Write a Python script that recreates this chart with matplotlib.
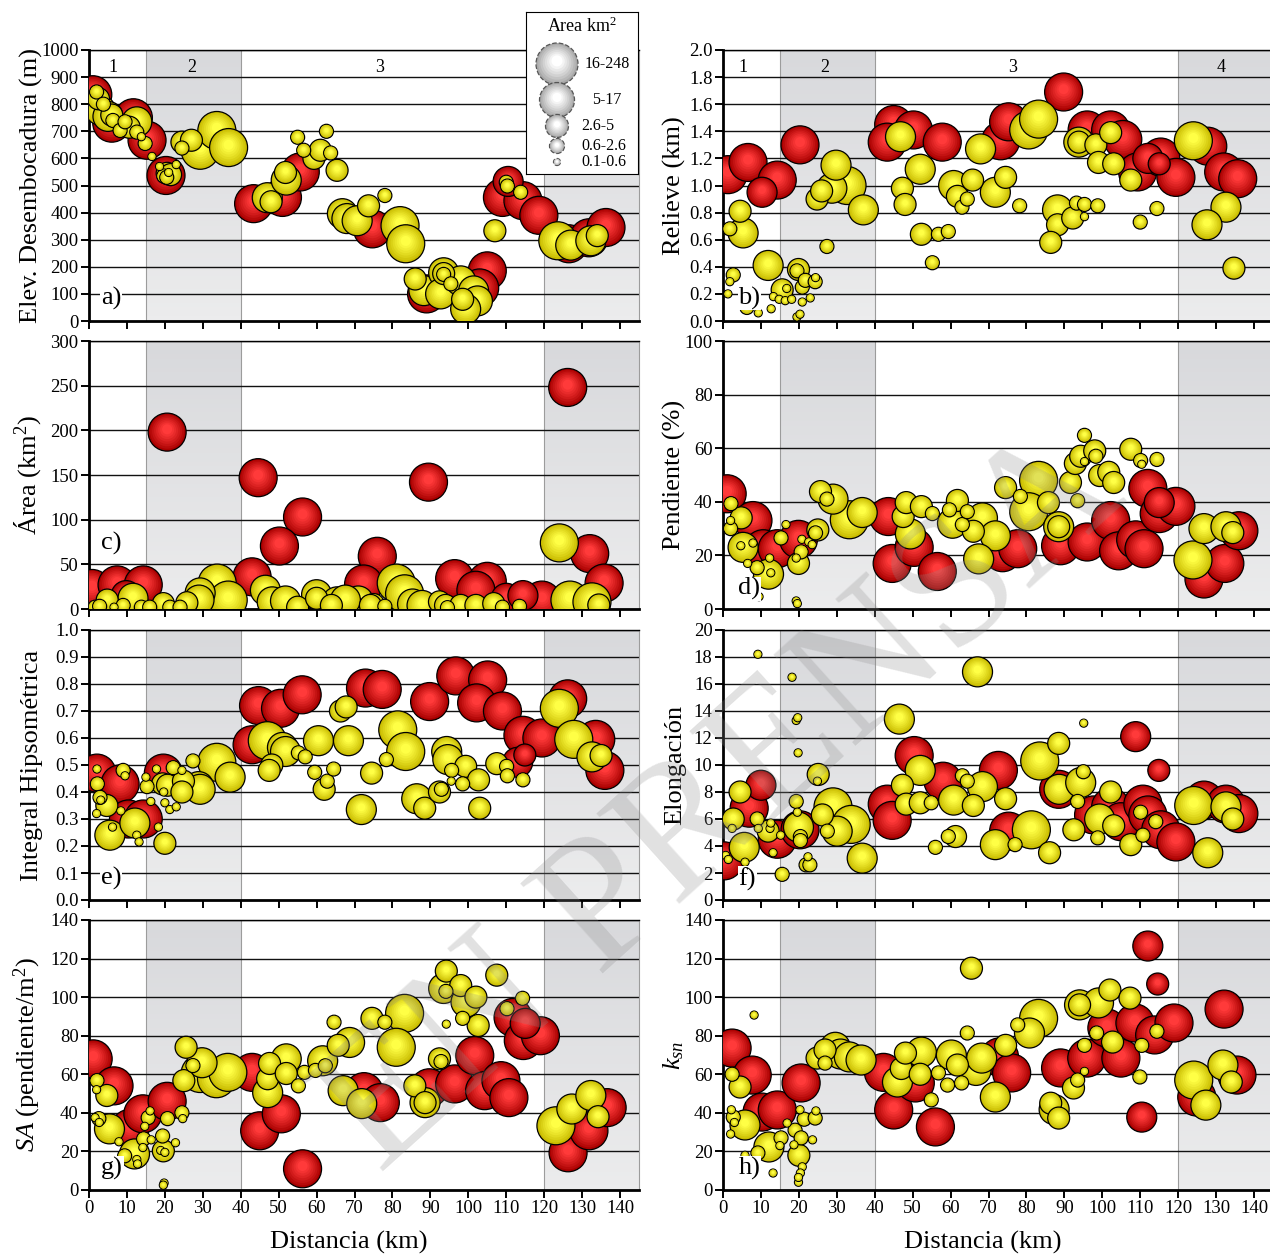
import numpy as np
import matplotlib
matplotlib.use("Agg")
import matplotlib.pyplot as plt
from matplotlib.colors import to_rgb

plt.rcParams['font.family'] = ['Liberation Serif', 'DejaVu Serif']
plt.rcParams['mathtext.fontset'] = 'custom'
plt.rcParams['mathtext.rm'] = 'Liberation Serif'
plt.rcParams['mathtext.it'] = 'Liberation Serif:italic'

# (distancia km, valor, clase de area 1..5)
elev_red = [(1, 835, 5), (6, 730, 5), (11.7, 750, 5), (15.3, 667, 5), (20.3, 537, 5), (43.4, 433, 5),
            (51, 456, 5), (55.7, 550, 5), (74.7, 340, 5), (89, 100, 5), (105, 185, 5), (103, 122, 5),
            (109, 456, 5), (110.5, 515, 4), (114.4, 444, 5), (118.6, 390, 5), (126.5, 285, 5),
            (131.8, 307, 5), (136.3, 345, 5)]
elev_yel = [(2, 845, 2), (2.5, 820, 3), (3.8, 800, 2), (3, 778, 4), (5, 755, 4), (6, 760, 3), (6.3, 740, 2),
            (8.2, 703, 2), (9.5, 735, 2), (10.6, 715, 3), (12.6, 735, 4), (12.6, 697, 2), (13.8, 680, 1),
            (14.8, 655, 2), (16.6, 607, 1), (18.6, 570, 1), (20.6, 545, 3), (21.5, 540, 3), (19.7, 535, 2),
            (20.5, 530, 2), (21, 548, 1), (23, 577, 1), (24.5, 660, 3), (24.5, 638, 2), (27, 667, 3),
            (29.3, 630, 5), (33.7, 703, 5), (36.8, 640, 5), (47, 455, 4), (48, 440, 3), (52, 520, 4),
            (51.8, 548, 3), (55, 678, 2), (56.6, 630, 2), (59.3, 600, 3), (62.6, 700, 2), (63.7, 620, 2),
            (65.4, 556, 3), (61, 630, 3), (66.8, 396, 4), (68, 378, 4), (70.7, 370, 4), (73.7, 425, 3),
            (78, 463, 2), (82, 352, 5), (83.5, 285, 5), (86, 155, 3), (88.3, 112, 4), (93.5, 178, 4),
            (93.5, 175, 3), (93.5, 172, 2), (92.7, 100, 4), (95.4, 137, 2), (98, 148, 4), (101.4, 111, 4),
            (102.4, 74, 4), (98.5, 80, 3), (99.3, 44, 4), (107, 333, 3), (110, 512, 2), (110.3, 498, 2),
            (113.8, 475, 2), (123.6, 296, 5), (127, 280, 4), (132.3, 296, 4), (134, 315, 3)]

rel_red = [(1.3, 1.08, 5), (6.6, 1.17, 5), (14.3, 1.04, 5), (10.3, 0.95, 4), (20.3, 1.30, 5), (45, 1.45, 5),
           (43.3, 1.32, 5), (50.2, 1.41, 5), (57.8, 1.32, 5), (73.2, 1.33, 5), (75.3, 1.47, 5), (89.8, 1.69, 5),
           (96, 1.41, 5), (102.2, 1.41, 5), (105.4, 1.34, 5), (109.3, 1.10, 5), (112, 1.2, 4), (115.4, 1.21, 5),
           (115, 1.16, 3), (119.4, 1.06, 5), (127.8, 1.29, 5), (132, 1.10, 5), (135.7, 1.05, 5)]
rel_yel = [(4.5, 0.81, 3), (1.8, 0.68, 2), (5.3, 0.65, 4), (11.9, 0.41, 4), (2.7, 0.34, 2), (1.8, 0.29, 1),
           (1.3, 0.2, 1), (6.3, 0.1, 2), (9.3, 0.06, 1), (12.7, 0.09, 1), (15.6, 0.23, 3), (13.3, 0.18, 1),
           (14.8, 0.16, 1), (16.8, 0.24, 1), (16.4, 0.15, 1), (18.1, 0.16, 1), (19.9, 0.38, 3), (19.5, 0.37, 2),
           (20.9, 0.25, 2), (21.7, 0.3, 2), (20.9, 0.14, 1), (19.5, 0.03, 1), (20.3, 0.05, 1), (23, 0.17, 1),
           (24.3, 0.29, 2), (24.4, 0.32, 1), (27.4, 0.55, 2), (24.8, 0.9, 3), (26, 0.96, 3), (28.7, 0.98, 4),
           (29.8, 1.15, 4), (32.7, 1.0, 5), (37, 0.82, 4), (46.8, 1.36, 4), (52, 1.12, 4), (47.3, 0.98, 3),
           (48, 0.86, 3), (52.3, 0.64, 3), (56.8, 0.64, 2), (59.4, 0.66, 2), (55.2, 0.43, 2), (60.8, 1.0, 4),
           (61.8, 0.92, 3), (63, 0.84, 2), (64.4, 0.9, 2), (65.8, 1.04, 3), (71.8, 0.95, 4), (74.5, 1.06, 3),
           (78.2, 0.85, 2), (67.9, 1.27, 4), (80.6, 1.41, 5), (83.2, 1.49, 5), (88.2, 0.82, 4), (88.2, 0.71, 3),
           (86.4, 0.58, 3), (92.2, 0.76, 3), (93.2, 0.87, 2), (95.3, 0.86, 2), (95.3, 0.77, 1), (98.8, 0.85, 2),
           (93.8, 1.32, 4), (93.8, 1.32, 3), (98.3, 1.3, 3), (102.2, 1.39, 3), (99, 1.17, 3), (103, 1.16, 3),
           (107.5, 1.04, 3), (110, 0.73, 2), (114.4, 0.83, 2), (124, 1.33, 5), (132.6, 0.84, 4),
           (127.6, 0.71, 4), (134.7, 0.39, 3)]

area_red = [(20.6, 198, 5), (44.6, 147, 5), (56.3, 103, 5), (50.2, 70.5, 5), (76, 59, 5), (72.4, 28, 5),
            (43, 36, 5), (0.8, 23, 5), (7.4, 27, 5), (14.3, 27, 5), (9.8, 15, 4), (89.5, 142, 5), (96.4, 34, 5),
            (105, 31, 5), (102, 21, 5), (110, 12, 4), (114.4, 15, 4), (119.4, 10, 5), (126.2, 248, 5),
            (132, 62, 5), (135.8, 29, 5)]
area_yel = [(33.8, 29, 5), (36.7, 10, 5), (29.3, 18, 4), (29, 10, 4), (11.6, 12, 4), (4.8, 10, 3), (1.6, 2, 2),
            (2.8, 3, 2), (6.6, 2, 1), (9, 4, 2), (13.8, 2, 2), (16, 2, 2), (19.6, 6, 3), (21.3, 2, 2), (24, 2, 2),
            (25.8, 7, 3), (46.5, 21, 4), (48.3, 8, 4), (51.8, 9, 4), (55, 2, 3), (60, 16, 4), (65.4, 8, 4),
            (71, 9, 4), (75, 5, 3), (81, 29, 5), (83.2, 17, 5), (60, 12, 3), (63.9, 4, 3), (67.6, 10, 4),
            (74.2, 4, 3), (78, 3, 2), (85.3, 5.6, 4), (87.8, 4, 4), (92.4, 8, 3), (94, 4, 3), (94.5, 1.5, 2),
            (98, 4, 3), (102, 4, 3), (106.7, 6, 3), (109, 2, 2), (113.5, 3, 2), (124, 74, 5), (126.8, 10, 5),
            (132.6, 8, 5), (134.4, 4.5, 3)]

pend_red = [(1.1, 43, 5), (7.9, 33, 5), (10.6, 22.5, 5), (14.3, 22.5, 5), (19.9, 26, 5), (43.6, 34.5, 5),
            (44.6, 17, 5), (50.4, 23, 5), (56.5, 14, 5), (73.7, 21, 5), (77.7, 22.5, 5), (89, 23.6, 5),
            (96, 25, 5), (102.2, 33, 5), (104.3, 21.7, 5), (108.8, 25.8, 5), (111, 22.5, 5), (112, 45, 5),
            (115, 35.6, 5), (115, 39.7, 4), (119.4, 38.3, 5), (126.8, 11.2, 5), (132.3, 17, 5), (136, 29.2, 5)]
pend_yel = [(2.1, 39.3, 2), (2, 33, 1), (2, 30, 2), (4.8, 34, 3), (5.3, 23, 4), (4.7, 23.6, 1), (7.9, 24.6, 1),
            (9, 15.4, 2), (12, 13, 4), (12.6, 13.5, 1), (12.3, 19, 1), (6.5, 17, 1), (9.5, 4.6, 1),
            (15.3, 26.5, 2), (16.6, 31.5, 1), (19.9, 17, 3), (19.3, 19, 1), (20.6, 21.3, 2), (20.8, 26, 1),
            (19.3, 3, 1), (19.6, 2, 1), (22.6, 25, 1), (23.5, 24, 1), (24.4, 28.4, 2), (25, 29.5, 3),
            (25.7, 43.8, 3), (27.4, 41, 2), (29, 41, 4), (33.3, 33.3, 5), (36.7, 36, 4), (49.4, 28, 4),
            (47.5, 34.5, 3), (48.3, 39.7, 3), (52.3, 38.2, 3), (55.2, 35.6, 2), (59.7, 37, 2), (61.8, 40.5, 3),
            (60.5, 32, 4), (63.1, 31.5, 2), (64.4, 36.3, 2), (66, 29, 3), (68.4, 34, 4), (71.8, 27.3, 4),
            (67.4, 18.7, 4), (74.5, 45.3, 3), (78.4, 42, 2), (83.2, 48, 5), (80.6, 36.3, 5), (85.8, 39.7, 3),
            (88.5, 30.7, 4), (88.5, 30.7, 3), (93.5, 40.4, 2), (91.6, 47.2, 3), (92.9, 54.3, 3), (94.3, 57, 3),
            (95.3, 64.8, 2), (95.3, 55, 1), (98, 59, 3), (98.3, 57, 2), (99.3, 49.8, 3), (101.7, 51, 3),
            (103, 47.2, 3), (107.5, 59.6, 3), (110.1, 55.4, 2), (110.4, 54, 1), (114.4, 55.8, 2),
            (123.9, 18.3, 5), (126.8, 30, 4), (132.6, 30.7, 4), (134.4, 28.5, 3)]

hip_red = [(2.1, 0.47, 5), (8.2, 0.43, 5), (10.4, 0.30, 5), (14.3, 0.30, 5), (19.6, 0.47, 5), (43, 0.575, 5),
           (44.7, 0.72, 5), (50.5, 0.71, 5), (56.2, 0.76, 5), (72.9, 0.785, 5), (77.3, 0.78, 5), (89.8, 0.735, 5),
           (96.7, 0.83, 5), (105.1, 0.815, 5), (102.2, 0.73, 5), (109, 0.70, 5), (114.9, 0.537, 3),
           (113, 0.51, 4), (114.4, 0.61, 5), (119.4, 0.60, 5), (126.2, 0.745, 5), (133.6, 0.595, 5),
           (136, 0.48, 5)]
hip_yel = [(2.1, 0.485, 1), (2.2, 0.43, 2), (2.9, 0.38, 2), (3.1, 0.37, 1), (4.7, 0.35, 3), (2, 0.32, 1),
           (5.5, 0.24, 4), (6.2, 0.27, 1), (9, 0.48, 2), (9.5, 0.46, 1), (8.4, 0.33, 1), (12.1, 0.285, 4),
           (12.6, 0.24, 1), (13.2, 0.215, 1), (15, 0.455, 1), (15.3, 0.42, 2), (16.3, 0.365, 1), (18.3, 0.27, 1),
           (17.8, 0.485, 1), (20, 0.21, 3), (19.4, 0.43, 3), (20.7, 0.425, 3), (19.7, 0.40, 1), (22.2, 0.49, 2),
           (20, 0.36, 1), (21.3, 0.335, 1), (23, 0.345, 1), (24.5, 0.48, 1), (24.9, 0.44, 3), (24.5, 0.40, 3),
           (27.4, 0.515, 2), (28.9, 0.42, 4), (29.3, 0.41, 4), (33.7, 0.51, 5), (37.2, 0.455, 4), (47, 0.59, 5),
           (48.2, 0.50, 3), (47.5, 0.48, 3), (51, 0.565, 4), (51.8, 0.55, 4), (55.2, 0.545, 2), (57, 0.53, 2),
           (60.5, 0.59, 4), (59.5, 0.473, 2), (62, 0.41, 3), (62.8, 0.44, 2), (64.5, 0.485, 2), (66.3, 0.70, 3),
           (67.8, 0.715, 3), (68.4, 0.59, 4), (71.8, 0.335, 4), (74.5, 0.47, 3), (78.4, 0.52, 2),
           (81.4, 0.63, 5), (83.5, 0.55, 5), (94.3, 0.55, 4), (94.6, 0.52, 4), (95.6, 0.48, 2), (99.3, 0.495, 3),
           (98.5, 0.43, 2), (102.7, 0.445, 3), (103, 0.34, 3), (86.4, 0.375, 4), (88.5, 0.34, 3),
           (92.4, 0.40, 3), (92.9, 0.41, 2), (95.5, 0.44, 1), (107.5, 0.505, 3), (110.1, 0.495, 2),
           (110.3, 0.46, 2), (114.4, 0.445, 2), (124, 0.71, 5), (127.8, 0.595, 5), (132.6, 0.53, 4),
           (135, 0.535, 3)]

elon_red = [(10, 8.5, 4), (6.9, 6.8, 5), (0.3, 2.9, 5), (14.3, 4.5, 5), (20.3, 5.2, 5), (43.3, 7.1, 5),
            (44.6, 5.9, 5), (50.4, 10.7, 5), (58, 8.8, 5), (72.6, 9.6, 5), (75.3, 5.1, 5), (88.5, 8.2, 5),
            (97.7, 6.3, 5), (102.2, 6.9, 5), (104.9, 5.8, 5), (108.8, 12.1, 4), (114.9, 9.6, 3), (110.7, 7.1, 5),
            (112, 6.3, 5), (115.4, 5.2, 5), (119.4, 4.3, 5), (126.8, 7.4, 5), (132.6, 7.1, 5), (136, 6.4, 5)]
elon_yel = [(9.2, 18.2, 1), (18.2, 16.5, 1), (19.3, 13.3, 1), (19.7, 13.5, 1), (19.8, 10.9, 1), (25.1, 9.3, 3),
            (24.9, 8.8, 1), (4.5, 8, 3), (0.7, 3.3, 1), (1.4, 3, 1), (2.7, 6, 3), (2.4, 5.3, 1), (5.6, 3.9, 4),
            (5.8, 2.8, 1), (9, 6, 2), (9.3, 5.3, 1), (11.9, 5.1, 3), (12.4, 5.3, 1), (12.6, 5.7, 1),
            (13.2, 3.5, 1), (15.6, 1.9, 2), (15.2, 4.8, 1), (19.3, 7.3, 2), (19.6, 6.5, 1), (19.9, 5.4, 4),
            (20.4, 4.7, 2), (20.4, 4.4, 2), (21.9, 2.6, 2), (22.4, 3.2, 1), (22.9, 2.6, 2), (26.2, 6.3, 3),
            (27.5, 5.1, 2), (29, 6.9, 5), (30.1, 5.1, 4), (33.8, 5.6, 5), (36.7, 3.1, 4), (46.5, 13.4, 4),
            (52, 9.6, 4), (47.3, 8.5, 3), (48.3, 7.1, 3), (52, 7.2, 3), (54.9, 7.2, 2), (56, 3.9, 2),
            (67.1, 16.9, 4), (63.1, 9.2, 2), (64.4, 8.8, 2), (60.8, 7.4, 4), (68.4, 8.4, 4), (66, 7, 3),
            (74.5, 7.5, 3), (59.4, 4.7, 2), (61.3, 4.7, 3), (81.3, 5.2, 5), (77, 4.1, 2), (71.8, 4.1, 4),
            (86.1, 3.5, 3), (83.5, 10.3, 5), (88.5, 11.6, 3), (88.6, 8.2, 4), (95, 9.5, 2), (94.3, 8.7, 4),
            (93.5, 7.3, 2), (95.1, 13.1, 1), (92.5, 5.2, 3), (99.3, 6, 4), (103, 5.5, 3), (98.8, 4.6, 2),
            (102.2, 8, 3), (107.5, 4.1, 3), (110.1, 6.5, 2), (114.1, 5.8, 2), (110.7, 4.8, 2), (127.8, 3.5, 4),
            (124.1, 7, 5), (132.6, 6.9, 4), (134.4, 6, 3)]

sa_red = [(1.1, 68, 5), (6.6, 54, 5), (10.8, 32, 5), (14.2, 39.5, 5), (20.6, 46, 5), (43, 61, 5), (45, 30.7, 5),
          (50.7, 39.5, 5), (56.3, 11, 5), (72.5, 51, 5), (76.8, 45.3, 5), (89.7, 53, 5), (96.4, 55, 5),
          (101.7, 69.7, 5), (104.3, 51.5, 5), (108.6, 56.7, 5), (110.7, 47.9, 5), (111.8, 89.5, 5),
          (115, 86.4, 4), (114.5, 77.5, 5), (119, 80, 5), (126.3, 19.3, 5), (131.8, 30.7, 5), (136.6, 42.7, 5)]
sa_yel = [(2.1, 56.7, 2), (2, 52, 1), (4.7, 49, 3), (1.6, 37.5, 1), (2.6, 37, 2), (2.7, 35, 1), (5.4, 31.7, 4),
          (7.9, 25, 1), (9.4, 17.7, 2), (12, 18.7, 4), (12.6, 15.8, 1), (12.8, 13.5, 1), (14.4, 26.5, 2),
          (15.6, 37.5, 2), (14.7, 33, 1), (14.2, 22, 1), (16.1, 41, 1), (16.4, 26, 1), (19.4, 28, 2),
          (18.9, 20.5, 1), (20, 19.5, 1), (19.6, 20.3, 3), (20.7, 37, 2), (22.8, 24.5, 1), (19.8, 3.6, 1),
          (19.6, 2.5, 1), (24.5, 40, 2), (24.7, 37, 1), (25.6, 74, 3), (25, 56.7, 3), (27.4, 64.5, 2),
          (29.3, 60.4, 5), (29.8, 66, 4), (33.6, 57.7, 5), (36.6, 61, 5), (47.1, 50.5, 4), (47.1, 57.7, 3),
          (47.6, 65.6, 3), (52, 68, 4), (52, 60.4, 3), (55.2, 54, 2), (56.8, 61, 2), (59.7, 62, 2),
          (61.6, 67, 4), (62.3, 64.4, 2), (64.6, 87, 2), (65.7, 75, 3), (68.7, 76.5, 4), (67, 51.5, 4),
          (71.9, 44.8, 4), (74.6, 89, 3), (78, 87, 2), (83.2, 91.6, 5), (81, 74, 5), (85.9, 54, 3),
          (88.6, 45.3, 4), (88.6, 45.3, 3), (92.4, 68, 3), (92.8, 66.6, 2), (94.2, 113.5, 3), (93.5, 104.5, 4),
          (94.1, 103, 2), (98, 106, 3), (99.4, 97.4, 4), (102, 100, 3), (98.5, 89, 2), (94.2, 86, 1),
          (102.6, 85.3, 3), (107.5, 111.4, 3), (110.2, 94, 2), (114.3, 99.4, 2), (123.1, 33.3, 5),
          (127.3, 42, 4), (132.3, 49, 4), (134.2, 38, 3)]

ksn_red = [(2.4, 73.6, 5), (7.7, 59.6, 5), (10.3, 40.4, 5), (14.3, 41.5, 5), (20.6, 55.5, 5), (42.3, 61, 5),
           (45, 41.5, 5), (50.7, 55.5, 5), (56, 32.7, 5), (72.9, 69, 5), (76.1, 60.7, 5), (89, 63.3, 5),
           (95.9, 68.4, 5), (101.2, 84, 5), (104.9, 68.4, 5), (108.6, 86.6, 5), (113.8, 80.4, 5),
           (118.9, 86.6, 5), (112, 126.5, 4), (114.6, 106.8, 3), (110.4, 37.8, 4), (124.9, 48.2, 5),
           (132.1, 93.8, 5), (135.5, 59.6, 5)]
ksn_yel = [(2.4, 60, 2), (4.5, 53.4, 3), (8.2, 90.7, 1), (2.2, 41.6, 1), (2.7, 37.8, 2), (3, 35, 1),
           (5.8, 33.7, 4), (2, 29, 1), (12.1, 22.3, 4), (9.2, 19.2, 2), (5.8, 18, 1), (15.3, 27, 2), (15, 23, 1),
           (13.2, 8.8, 1), (16.9, 34.7, 1), (19, 31, 2), (20.6, 27, 2), (18.7, 23.4, 1), (20, 18, 3),
           (20.3, 41.6, 1), (20.9, 12, 1), (20.4, 8.8, 1), (19.9, 4, 1), (19.9, 6.5, 1), (21.4, 36.7, 2),
           (23.6, 26, 1), (24.3, 37.3, 2), (24.5, 41, 1), (24.8, 68.4, 3), (26.9, 65.8, 2), (26.9, 72.6, 3),
           (29.6, 74, 4), (31, 70.5, 4), (33.3, 69, 4), (36.4, 67.4, 4), (46, 56, 4), (47, 63, 3), (48.1, 71, 3),
           (52.3, 71.5, 4), (52, 60, 3), (54.9, 46.7, 2), (56.8, 60.7, 2), (59.2, 54.4, 2), (62.9, 55.5, 2),
           (60.2, 70, 4), (61.8, 64.8, 3), (65.5, 115, 3), (64.4, 81.4, 2), (66.7, 62, 4), (68.2, 68.4, 4),
           (74.5, 75, 3), (71.8, 48.2, 4), (77.7, 85.6, 2), (83.2, 89, 5), (80.8, 81.4, 4), (86.4, 45, 3),
           (87.3, 41.7, 4), (88.5, 37.3, 3), (92.4, 52.9, 3), (93.5, 57, 2), (95.3, 61.5, 1), (95.3, 75, 2),
           (94, 96, 4), (94, 96, 3), (99, 97, 4), (102, 103.7, 3), (107.3, 99.5, 3), (98.5, 81.4, 2),
           (102.7, 76.7, 3), (110.4, 75, 2), (109.9, 58.6, 2), (114.4, 82.3, 2), (124.1, 57, 5),
           (127.3, 44, 4), (131.8, 64.8, 4), (134, 56, 3)]

area_classes = ["16-248", "5-17", "2.6-5", "0.6-2.6", "0.1-0.6"]
x_ticks = list(range(0, 141, 10))

# diametro en pixeles por clase de area
DIAM = {1: 8, 2: 14, 3: 22, 4: 30, 5: 38}
RED = ("#a80000", "#ff3a3a")
YEL = ("#c9bb00", "#ffff45")
GRAY = ("#a8a8a8", "#ffffff")

fig = plt.figure(figsize=(12.7, 12.56), dpi=100)
FW, FH = 1270, 1256


def sphere(ax, x, y, d, cols, upp, edge="black", ls="solid", n=8):
    c0, c1 = np.array(to_rgb(cols[0])), np.array(to_rgb(cols[1]))
    xs, ys, ss, cs = [], [], [], []
    for i in range(n):
        f = 1 - i * 0.105
        t = (i / (n - 1)) ** 0.9
        xs.append(x)
        ys.append(y + (1 - f) * d * 0.10 * upp)
        ss.append((d * f * 0.72) ** 2)
        cs.append(c0 * (1 - t) + c1 * t)
    lw = [0.9] + [0] * (n - 1)
    ec = [edge] + ["none"] * (n - 1)
    ax.scatter(xs, ys, s=ss, c=cs, edgecolors=ec, linewidths=lw, linestyles=ls, zorder=3, clip_on=True)


def panel(ax, red, yel, ylim, ystep, fmt, ylabel, letter, col, bottom, zones, lety=0.085):
    y0, y1 = ylim
    ax.set_xlim(0, 145)
    ax.set_ylim(y0, y1)
    pos = ax.get_position()
    upp = (y1 - y0) / (pos.height * FH)
    grad = np.linspace(0, 1, 60)[:, None, None]
    top, bot = np.array(to_rgb("#d8d9dc")), np.array(to_rgb("#ececed"))
    img = top * (1 - grad) + bot * grad
    for a, b in [(15, 40), (120, 145)]:
        ax.imshow(img, extent=[a, b, y0, y1], aspect="auto", origin="upper", zorder=0)
        ax.axvline(a, color="#9c9c9c", lw=0.8, zorder=1)
    ax.axvline(40, color="#9c9c9c", lw=0.8, zorder=1)
    ax.set_xlim(0, 145)
    ax.set_ylim(y0, y1)
    for v in np.arange(y0 + ystep, y1 + ystep / 2, ystep):
        ax.axhline(v, color="#111111", lw=1.0, zorder=1)
    pts = [(x, y, s, RED) for x, y, s in sorted(red, key=lambda p: -p[2])]
    pts += [(x, y, s, YEL) for x, y, s in sorted(yel, key=lambda p: -p[2])]
    for x, y, s, c in pts:
        sphere(ax, x, y, DIAM[s], c, upp)
    ax.set_yticks(np.arange(y0, y1 + ystep / 2, ystep))
    ax.yaxis.set_major_formatter(plt.FormatStrFormatter(fmt))
    ax.set_xticks(x_ticks)
    ax.tick_params(direction="out", length=6, width=1.4, labelsize=13.5, pad=1.5)
    if bottom:
        ax.set_xlabel("Distancia (km)", fontsize=19)
        ax.xaxis.set_label_coords(0.472, -0.152)
        ax.xaxis.label.set_va("top")
    else:
        ax.set_xticklabels([])
    ax.set_ylabel(ylabel, fontsize=19)
    ax.yaxis.set_label_coords(-0.084 if col == 0 else -0.067, 0.5)
    for s in ["left", "bottom"]:
        ax.spines[s].set_linewidth(2)
    ax.spines["top"].set_linewidth(1.0)
    ax.spines["right"].set_color("#9c9c9c")
    ax.spines["right"].set_linewidth(0.8)
    ax.text(0.022 if col == 0 else 0.028, lety, letter, transform=ax.transAxes, fontsize=19,
            ha="left", va="center", zorder=10, bbox=dict(fc="white", ec="none", pad=0.5))
    for zx, zt in zones:
        ax.text(zx, y0 + 0.935 * (y1 - y0), zt, fontsize=13, ha="center", va="center", zorder=2)


lefts = [89 / FW, 723 / FW]
width = 550 / FW
rows = [(50, 321), (341, 609), (630, 900), (920, 1190)]


def mkax(col, row):
    t, b = rows[row]
    return fig.add_axes([lefts[col], 1 - b / FH, width, (b - t) / FH])


zones_a = [(6.3, "1"), (27, "2"), (76.6, "3")]
zones_b = [(5.3, "1"), (26.7, "2"), (76.3, "3"), (131.2, "4")]
panel(mkax(0, 0), elev_red, elev_yel, (0, 1000), 100, "%d", "Elev. Desembocadura (m)", "a)", 0, False, zones_a)
panel(mkax(1, 0), rel_red, rel_yel, (0, 2.0), 0.2, "%.1f", "Relieve (km)", "b)", 1, False, zones_b)
panel(mkax(0, 1), area_red, area_yel, (0, 300), 50, "%d", "Área (km$^2$)", "c)", 0, False, [], lety=0.246)
panel(mkax(1, 1), pend_red, pend_yel, (0, 100), 20, "%d", "Pendiente (%)", "d)", 1, False, [], lety=0.075)
panel(mkax(0, 2), hip_red, hip_yel, (0, 1.0), 0.1, "%.1f", "Integral Hipsométrica", "e)", 0, False, [], lety=0.08)
panel(mkax(1, 2), elon_red, elon_yel, (0, 20), 2, "%d", "Elongación", "f)", 1, False, [], lety=0.078)
panel(mkax(0, 3), sa_red, sa_yel, (0, 140), 20, "%d", "$SA$ (pendiente/m$^2$)", "g)", 0, True, [], lety=0.08)
panel(mkax(1, 3), ksn_red, ksn_yel, (0, 140), 20, "%d", "$k_{sn}$", "h)", 1, True, [], lety=0.08)

# leyenda de clases de area
lg = fig.add_axes([526 / FW, 1 - 174 / FH, 112 / FW, 162 / FH])
lg.set_xlim(0, 112)
lg.set_ylim(162, 0)
lg.set_xticks([])
lg.set_yticks([])
for s in lg.spines.values():
    s.set_linewidth(0.8)
lg.set_zorder(20)
lg.text(56, 14, "Area km$^2$", fontsize=13, ha="center", va="center")
leg_y = [52, 88, 114, 134, 150]
leg_d = [42, 35, 23, 15, 7]
leg_tx = [59, 66, 55, 55, 55]
for yy, dd, tx, lab in zip(leg_y, leg_d, leg_tx, area_classes):
    sphere(lg, 31, yy, dd, GRAY, -1, edge="#555555", ls="--")
    lg.text(tx, yy, lab, fontsize=11.5, ha="left", va="center")

# marca de agua
fig.text(0.57, 0.36, "EN PRENSA", rotation=42, fontsize=134, color="#8c8c8c", alpha=0.26,
         ha="center", va="center", zorder=100)

fig.savefig("out.png", dpi=100)
